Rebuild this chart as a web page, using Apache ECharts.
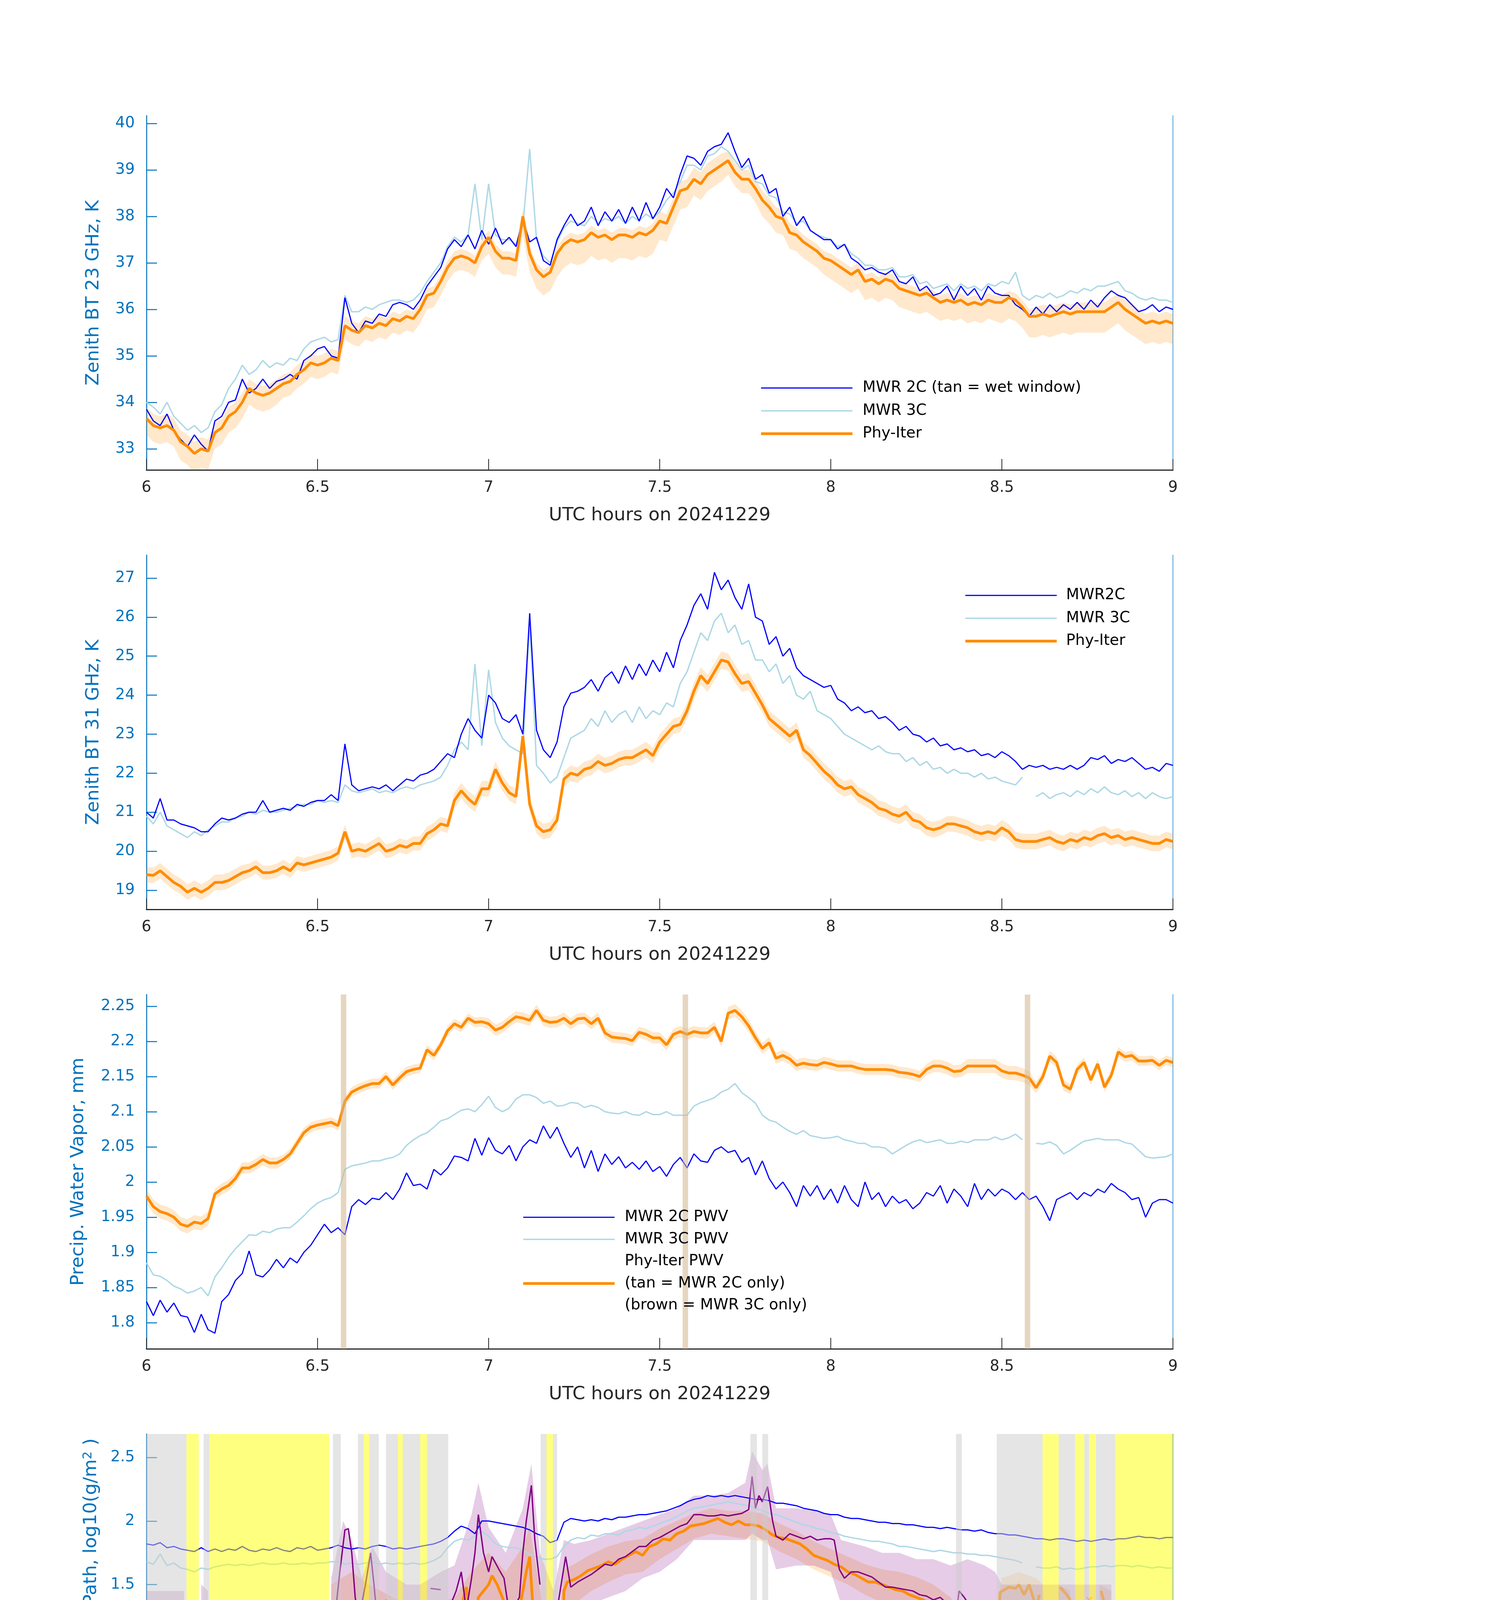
<!DOCTYPE html>
<html><head><meta charset="utf-8">
<script src="https://cdn.jsdelivr.net/npm/echarts@6/dist/echarts.min.js"></script>
<style>html,body{margin:0;padding:0;background:#fff}#c{width:3825px;height:6000px}</style>
</head><body><div id="c"></div>
<script>
// ---------------- DATA ----------------
// sample clock for the MWR / Phy-Iter time series (hours UTC, every 0.02 h)
const T = []; for (let i = 0; i <= 150; i++) T.push(Math.round((6 + i * 0.02) * 100) / 100);

const xTitle = 'UTC hours on 20241229';

// Panel 1: Zenith BT 23 GHz
const t23Ticks = [33,34,35,36,37,38,39,40];
const t23_2c = [
33.85,33.6,33.5,33.75,33.4,33.2,33.05,33.3,33.1,32.95,
33.6,33.7,34.0,34.05,34.5,34.2,34.3,34.5,34.3,34.45,
34.5,34.6,34.5,34.9,35.0,35.15,35.2,35.0,34.95,36.25,
35.7,35.5,35.75,35.7,35.9,35.85,36.1,36.15,36.1,36.0,
36.2,36.5,36.7,36.9,37.3,37.5,37.35,37.6,37.3,37.7,
37.4,37.75,37.4,37.55,37.35,37.95,37.45,37.55,37.05,36.95,
37.5,37.8,38.05,37.8,37.9,38.2,37.8,38.1,37.9,38.15,
37.85,38.2,37.9,38.3,37.95,38.2,38.6,38.4,38.9,39.3,
39.25,39.1,39.4,39.5,39.55,39.8,39.4,39.05,39.25,38.8,
38.9,38.5,38.6,38.0,38.2,37.8,38.0,37.7,37.6,37.5,
37.5,37.3,37.4,37.1,37.0,36.85,36.9,36.8,36.75,36.85,
36.6,36.55,36.7,36.4,36.5,36.3,36.35,36.5,36.2,36.5,
36.3,36.45,36.2,36.5,36.35,36.3,36.3,36.1,36.0,35.85,
36.05,35.9,36.1,35.95,36.1,36.0,36.15,36.0,36.2,36.05,
36.25,36.4,36.3,36.25,36.1,35.95,36.0,36.1,35.95,36.05,
36.0];
const t23_3c = [
34.0,33.9,33.75,34.0,33.7,33.55,33.4,33.5,33.35,33.45,
33.8,33.95,34.3,34.5,34.8,34.6,34.7,34.9,34.75,34.85,
34.8,34.95,34.9,35.15,35.3,35.35,35.4,35.3,35.35,36.3,
35.95,35.95,36.05,36.0,36.1,36.15,36.2,36.2,36.15,36.2,
36.35,36.6,36.8,37.0,37.35,37.55,37.45,37.6,38.7,37.5,
38.7,37.6,37.5,37.5,37.4,37.8,39.45,37.5,37.15,37.0,
37.45,37.75,37.9,37.85,37.8,38.0,37.85,37.95,37.9,38.0,
37.85,38.0,37.9,38.05,37.95,38.1,38.35,38.5,38.75,39.1,
39.1,39.0,39.3,39.35,39.5,39.4,39.2,39.0,39.1,38.75,
38.7,38.45,38.4,38.1,38.05,37.85,37.9,37.7,37.6,37.55,
37.5,37.35,37.4,37.2,37.1,36.95,36.95,36.85,36.85,36.9,
36.7,36.7,36.75,36.55,36.6,36.45,36.5,36.55,36.4,36.55,
36.45,36.5,36.4,36.55,36.5,36.6,36.55,36.8,36.3,36.2,
36.3,36.25,36.35,36.25,36.3,36.4,36.35,36.45,36.4,36.5,
36.5,36.55,36.6,36.4,36.35,36.25,36.2,36.25,36.2,36.2,
36.15];
const t23_phy = [
33.65,33.5,33.45,33.5,33.4,33.15,33.05,32.9,33.0,32.95,
33.35,33.45,33.7,33.8,34.0,34.3,34.2,34.15,34.2,34.3,
34.4,34.45,34.6,34.7,34.85,34.8,34.85,34.95,34.9,35.65,
35.55,35.5,35.65,35.6,35.7,35.65,35.8,35.75,35.85,35.8,
36.0,36.3,36.35,36.6,36.9,37.1,37.15,37.1,37.0,37.35,
37.55,37.25,37.1,37.1,37.05,38.0,37.2,36.85,36.7,36.8,
37.2,37.4,37.5,37.45,37.5,37.65,37.55,37.6,37.5,37.6,
37.6,37.55,37.65,37.6,37.7,37.9,37.85,38.2,38.55,38.6,
38.8,38.7,38.9,39.0,39.1,39.2,38.95,38.8,38.8,38.6,
38.35,38.2,38.0,37.95,37.65,37.6,37.45,37.35,37.25,37.1,
37.05,36.95,36.85,36.75,36.85,36.6,36.65,36.55,36.65,36.6,
36.45,36.4,36.35,36.3,36.35,36.25,36.15,36.2,36.15,36.2,
36.1,36.15,36.1,36.2,36.15,36.15,36.25,36.2,36.05,35.85,
35.85,35.9,35.85,35.9,35.95,35.9,35.95,35.95,35.95,35.95,
35.95,36.05,36.15,36.0,35.9,35.8,35.7,35.75,35.7,35.75,
35.7];
// Phy-Iter uncertainty, one value per 0.1 h block
const t23ErrUp = [0.25,0.25,0.2,0.2,0.2,0.2,0.2,0.15,0.15,0.15,0.15,0.15,0.15,0.15,0.15,0.2,0.25,0.2,0.2,0.15,0.15,0.15,0.15,0.15,0.15,0.15,0.2,0.2,0.2,0.2,0.2];
const t23ErrDn = [0.35,0.4,0.35,0.35,0.3,0.3,0.3,0.3,0.3,0.3,0.35,0.4,0.5,0.5,0.5,0.4,0.35,0.3,0.35,0.35,0.4,0.4,0.4,0.4,0.4,0.45,0.45,0.45,0.45,0.45,0.45];

// Panel 2: Zenith BT 31 GHz
const t31Ticks = [19,20,21,22,23,24,25,26,27];
const t31_2c = [
21.0,20.85,21.35,20.8,20.8,20.7,20.65,20.6,20.5,20.5,
20.7,20.85,20.8,20.85,20.95,21.0,21.0,21.3,21.0,21.05,
21.1,21.05,21.2,21.15,21.25,21.3,21.3,21.45,21.3,22.75,
21.7,21.55,21.6,21.65,21.6,21.7,21.55,21.7,21.85,21.8,
21.95,22.0,22.1,22.3,22.5,22.4,23.0,23.4,23.1,22.9,
24.0,23.8,23.4,23.3,23.5,23.0,26.1,23.1,22.6,22.4,
22.8,23.7,24.05,24.1,24.2,24.4,24.1,24.45,24.6,24.3,
24.75,24.4,24.8,24.5,24.9,24.6,25.1,24.7,25.4,25.8,
26.3,26.6,26.2,27.15,26.7,26.95,26.5,26.2,26.85,26.0,
25.9,25.3,25.5,25.0,25.2,24.7,24.5,24.4,24.3,24.2,
24.25,23.9,23.8,23.6,23.7,23.55,23.6,23.4,23.45,23.3,
23.1,23.2,23.0,22.95,22.8,22.9,22.7,22.75,22.6,22.65,
22.55,22.6,22.45,22.5,22.4,22.55,22.45,22.3,22.1,22.2,
22.15,22.2,22.1,22.15,22.1,22.2,22.1,22.2,22.4,22.35,
22.45,22.25,22.35,22.3,22.4,22.25,22.1,22.15,22.05,22.25,
22.2];
const t31_3c = [
20.9,20.7,21.0,20.65,20.55,20.45,20.35,20.5,20.4,20.55,
20.65,20.75,20.75,20.85,20.9,21.0,20.95,21.05,21.0,21.0,
21.05,21.1,21.15,21.2,21.2,21.3,21.25,21.3,21.25,21.7,
21.55,21.5,21.55,21.6,21.5,21.55,21.5,21.6,21.65,21.6,
21.7,21.75,21.8,21.9,22.2,22.6,22.8,22.6,24.8,22.7,
24.65,23.3,22.9,22.7,22.6,22.5,25.9,22.2,22.0,21.75,
21.9,22.4,22.9,23.0,23.1,23.4,23.2,23.6,23.3,23.5,
23.6,23.3,23.7,23.4,23.6,23.5,23.8,23.7,24.3,24.6,
25.1,25.6,25.4,25.9,26.1,25.6,25.8,25.3,25.4,24.9,
24.9,24.6,24.8,24.3,24.5,24.0,23.9,24.1,23.6,23.5,
23.4,23.2,23.0,22.9,22.8,22.7,22.6,22.7,22.55,22.5,
22.5,22.3,22.4,22.2,22.3,22.1,22.15,22.0,22.1,22.0,
22.0,21.9,22.0,21.85,21.9,21.8,21.75,21.7,21.9,null,
21.4,21.5,21.35,21.45,21.5,21.4,21.55,21.45,21.6,21.5,
21.65,21.5,21.45,21.55,21.4,21.5,21.35,21.5,21.4,21.35,
21.4];
const t31_phy = [
19.4,19.38,19.5,19.35,19.2,19.1,18.95,19.05,18.95,19.05,
19.2,19.2,19.25,19.35,19.45,19.5,19.6,19.45,19.45,19.5,
19.6,19.5,19.7,19.65,19.7,19.75,19.8,19.85,19.95,20.5,
20.0,20.05,20.0,20.1,20.2,20.0,20.05,20.15,20.1,20.2,
20.2,20.45,20.55,20.7,20.65,21.3,21.55,21.35,21.2,21.6,
21.6,22.1,21.75,21.5,21.4,22.95,21.2,20.65,20.5,20.55,
20.8,21.85,22.0,21.95,22.1,22.15,22.3,22.2,22.25,22.35,
22.4,22.4,22.5,22.6,22.45,22.8,23.0,23.2,23.25,23.6,
24.1,24.5,24.3,24.6,24.9,24.85,24.55,24.3,24.35,24.05,
23.75,23.4,23.25,23.1,22.95,23.1,22.6,22.45,22.25,22.05,
21.9,21.7,21.6,21.65,21.45,21.35,21.25,21.1,21.05,20.95,
20.9,21.0,20.8,20.75,20.6,20.55,20.6,20.7,20.7,20.65,
20.6,20.5,20.45,20.5,20.45,20.6,20.5,20.3,20.25,20.25,
20.25,20.3,20.35,20.25,20.2,20.3,20.25,20.35,20.3,20.4,
20.45,20.35,20.4,20.3,20.35,20.3,20.25,20.2,20.2,20.3,
20.25];
const t31ErrUp = [0.2,0.2,0.2,0.18,0.18,0.18,0.18,0.18,0.18,0.2,0.2,0.2,0.2,0.2,0.2,0.2,0.22,0.22,0.2,0.2,0.2,0.2,0.2,0.2,0.2,0.2,0.2,0.2,0.2,0.2,0.2];
const t31ErrDn = [0.2,0.2,0.2,0.18,0.18,0.18,0.18,0.18,0.18,0.2,0.2,0.2,0.2,0.2,0.2,0.2,0.22,0.22,0.2,0.2,0.2,0.2,0.2,0.2,0.2,0.2,0.2,0.2,0.2,0.2,0.2];

// Panel 3: Precipitable water vapour
const pwvTicks = [1.8,1.85,1.9,1.95,2,2.05,2.1,2.15,2.2,2.25];
const pwv_2c = [
1.83,1.81,1.832,1.815,1.828,1.81,1.808,1.786,1.812,1.79,
1.785,1.83,1.84,1.86,1.87,1.902,1.868,1.865,1.875,1.89,
1.878,1.892,1.885,1.9,1.91,1.925,1.94,1.928,1.935,1.925,
1.965,1.975,1.968,1.977,1.975,1.985,1.975,1.99,2.013,1.995,
1.997,1.99,2.018,2.01,2.02,2.037,2.035,2.03,2.062,2.038,
2.063,2.045,2.04,2.052,2.03,2.05,2.06,2.055,2.08,2.062,
2.078,2.055,2.035,2.05,2.02,2.045,2.015,2.04,2.025,2.036,
2.02,2.028,2.018,2.03,2.015,2.022,2.008,2.025,2.035,2.02,
2.04,2.03,2.028,2.045,2.05,2.042,2.045,2.028,2.035,2.01,
2.03,2.005,1.99,2.0,1.985,1.965,1.995,1.98,1.995,1.975,
1.99,1.97,1.995,1.975,1.965,2.0,1.975,1.985,1.965,1.98,
1.97,1.975,1.962,1.97,1.985,1.98,1.995,1.97,1.99,1.98,
1.965,1.998,1.975,1.99,1.98,1.99,1.985,1.975,1.985,1.975,
1.98,1.965,1.945,1.975,1.98,1.985,1.975,1.985,1.98,1.99,
1.985,1.998,1.99,1.985,1.975,1.978,1.95,1.97,1.975,1.975,
1.97];
const pwv_3c = [
1.885,1.868,1.866,1.86,1.852,1.848,1.842,1.845,1.85,1.838,
1.865,1.878,1.893,1.905,1.915,1.925,1.924,1.93,1.928,1.933,
1.935,1.935,1.943,1.952,1.962,1.97,1.975,1.978,1.985,2.018,
2.023,2.025,2.027,2.03,2.03,2.033,2.035,2.04,2.052,2.06,
2.066,2.07,2.078,2.087,2.09,2.096,2.102,2.104,2.1,2.11,
2.122,2.106,2.1,2.105,2.118,2.124,2.124,2.12,2.112,2.115,
2.108,2.109,2.113,2.112,2.106,2.109,2.106,2.1,2.098,2.097,
2.1,2.096,2.095,2.1,2.096,2.096,2.1,2.095,2.095,2.095,
2.108,2.113,2.116,2.12,2.128,2.132,2.14,2.127,2.12,2.112,
2.095,2.088,2.085,2.078,2.072,2.068,2.073,2.066,2.064,2.062,
2.063,2.065,2.06,2.058,2.055,2.055,2.05,2.05,2.048,2.04,
2.046,2.052,2.057,2.06,2.056,2.058,2.06,2.055,2.055,2.058,
2.056,2.06,2.06,2.06,2.064,2.06,2.063,2.068,2.06,null,
2.055,2.054,2.057,2.052,2.04,2.045,2.052,2.058,2.06,2.062,
2.06,2.06,2.06,2.056,2.054,2.045,2.036,2.034,2.035,2.036,
2.04];
const pwv_phy = [
1.98,1.965,1.958,1.955,1.95,1.94,1.937,1.943,1.941,1.948,
1.983,1.99,1.995,2.005,2.02,2.02,2.025,2.032,2.027,2.027,
2.032,2.04,2.055,2.07,2.078,2.081,2.083,2.085,2.08,2.115,
2.128,2.133,2.137,2.14,2.14,2.15,2.138,2.148,2.157,2.16,
2.162,2.188,2.18,2.195,2.215,2.225,2.22,2.233,2.227,2.228,
2.225,2.216,2.22,2.228,2.235,2.233,2.23,2.244,2.23,2.227,
2.228,2.233,2.225,2.232,2.233,2.225,2.233,2.212,2.206,2.205,
2.204,2.201,2.213,2.21,2.205,2.205,2.195,2.21,2.214,2.21,
2.214,2.212,2.212,2.22,2.2,2.24,2.244,2.235,2.222,2.205,
2.19,2.198,2.176,2.18,2.175,2.166,2.169,2.167,2.166,2.17,
2.168,2.165,2.165,2.165,2.162,2.16,2.16,2.16,2.16,2.159,
2.156,2.155,2.153,2.15,2.16,2.165,2.165,2.162,2.157,2.158,
2.165,2.165,2.165,2.165,2.165,2.158,2.155,2.155,2.152,2.148,
2.134,2.15,2.179,2.17,2.138,2.132,2.16,2.17,2.145,2.168,
2.135,2.152,2.185,2.178,2.18,2.172,2.172,2.173,2.166,2.173,
2.17];
const pwvErrUp = [0.01,0.01,0.008,0.008,0.007,0.007,0.007,0.007,0.007,0.007,0.008,0.008,0.008,0.008,0.008,0.008,0.008,0.009,0.008,0.008,0.008,0.008,0.008,0.009,0.01,0.01,0.008,0.007,0.007,0.007,0.007];
const pwvErrDn = [0.01,0.01,0.008,0.008,0.007,0.007,0.007,0.007,0.007,0.007,0.008,0.008,0.008,0.008,0.008,0.008,0.008,0.009,0.008,0.008,0.008,0.008,0.008,0.009,0.01,0.01,0.008,0.007,0.007,0.007,0.007];
// tan = MWR 2C only intervals (hours)
const pwvTan = [[6.568,6.584],[7.567,7.583],[8.567,8.583]];

// Panel 4: log10 LWP
const lwpTicks = [0,0.5,1,1.5,2,2.5];
const lwp_2c = [
1.82,1.81,1.83,1.79,1.8,1.78,1.77,1.76,1.79,1.76,
1.78,1.76,1.78,1.77,1.8,1.77,1.76,1.78,1.77,1.79,
1.77,1.76,1.79,1.78,1.8,1.77,1.78,1.79,1.81,1.79,
1.78,1.79,1.78,1.8,1.81,1.8,1.78,1.79,1.78,1.79,
1.8,1.81,1.82,1.84,1.87,1.92,1.96,1.94,1.9,2.0,
2.0,1.99,1.98,1.97,1.96,1.95,1.93,1.9,1.88,1.83,
1.85,1.99,2.02,2.01,2.0,2.01,2.0,2.02,2.01,2.03,
2.03,2.04,2.05,2.05,2.06,2.07,2.08,2.1,2.12,2.15,
2.17,2.18,2.2,2.19,2.2,2.19,2.2,2.19,2.18,2.17,
2.17,2.16,2.14,2.14,2.13,2.12,2.1,2.09,2.08,2.06,
2.05,2.05,2.03,2.02,2.02,2.01,2.0,1.99,1.99,1.98,
1.98,1.97,1.97,1.96,1.95,1.95,1.94,1.95,1.94,1.93,
1.93,1.92,1.93,1.91,1.9,1.9,1.89,1.89,1.88,1.87,
1.86,1.86,1.85,1.86,1.86,1.85,1.84,1.85,1.84,1.85,
1.86,1.85,1.86,1.86,1.87,1.88,1.87,1.87,1.86,1.87,
1.87];
const lwp_3c = [
1.68,1.66,1.74,1.65,1.67,1.63,1.62,1.6,1.63,1.62,
1.64,1.65,1.66,1.65,1.66,1.65,1.66,1.67,1.66,1.66,
1.67,1.66,1.66,1.67,1.66,1.67,1.67,1.68,1.68,1.66,
1.67,1.66,1.67,1.68,1.66,1.67,1.66,1.67,1.66,1.67,
1.66,1.67,1.69,1.72,1.79,1.84,1.86,1.85,1.88,1.92,
1.88,1.82,1.8,1.79,1.79,1.77,1.74,1.72,1.7,1.7,
1.72,1.8,1.85,1.87,1.86,1.89,1.88,1.9,1.9,1.89,
1.92,1.93,1.95,1.94,1.96,1.98,2.0,2.02,2.05,2.08,
2.1,2.11,2.12,2.13,2.14,2.15,2.14,2.13,2.12,2.1,
2.08,2.06,2.05,2.03,2.01,1.99,1.97,1.96,1.94,1.93,
1.91,1.9,1.88,1.87,1.86,1.85,1.84,1.84,1.83,1.82,
1.8,1.8,1.79,1.78,1.77,1.76,1.77,1.76,1.75,1.75,
1.74,1.74,1.73,1.73,1.72,1.71,1.7,1.69,1.67,null,
1.64,1.63,1.63,1.64,1.62,1.63,1.62,1.63,1.64,1.64,
1.65,1.64,1.65,1.65,1.64,1.65,1.64,1.63,1.64,1.63,
1.63];
// Phy-Iter LWP [hour, log10 LWP]; -1 = below axis (LWP ~ 0), null = gap
const lwpPhy = [
[6.0,0.8],[6.01,0.75],[6.025,0.9],[6.04,1.06],[6.055,0.92],[6.07,0.66],[6.085,0.6],[6.095,-1],[6.1,null],
[6.158,0.26],[6.175,0.16],[6.18,null],
[6.555,-1],[6.562,1.12],[6.57,1.15],[6.578,1.17],[6.585,-1],[6.59,null],
[6.83,-1],[6.835,0.75],[6.845,0.85],[6.855,0.7],[6.865,-1],[6.87,null],
[6.885,-1],[6.9,0.9],[6.91,1.2],[6.925,1.38],[6.935,1.48],[6.945,1.25],[6.96,1.2],[6.97,1.4],[6.985,1.45],
[7.0,1.5],[7.01,1.57],[7.025,1.5],[7.04,1.4],[7.055,1.3],[7.065,1.25],[7.08,1.22],[7.09,1.3],[7.1,1.45],
[7.11,1.6],[7.12,1.72],[7.13,1.3],[7.145,0.95],[7.155,0.3],[7.16,-1],[7.18,null],
[7.205,-1],[7.22,1.45],[7.23,1.52],[7.25,1.54],[7.27,1.57],[7.29,1.61],[7.31,1.63],[7.33,1.65],[7.35,1.68],
[7.37,1.66],[7.39,1.7],[7.41,1.73],[7.43,1.76],[7.45,1.73],[7.47,1.8],[7.49,1.82],[7.51,1.86],[7.53,1.85],
[7.55,1.9],[7.57,1.92],[7.59,1.96],[7.61,1.97],[7.63,1.98],[7.65,2.0],[7.67,2.02],[7.69,1.99],[7.71,1.97],
[7.73,2.0],[7.75,1.97],[7.77,1.97],[7.79,1.96],[7.81,1.93],[7.83,1.89],[7.85,1.87],[7.87,1.86],[7.89,1.84],
[7.91,1.82],[7.93,1.78],[7.95,1.73],[7.97,1.71],[7.99,1.69],[8.01,1.66],[8.03,1.64],[8.05,1.6],[8.07,1.58],
[8.09,1.55],[8.11,1.52],[8.13,1.52],[8.15,1.5],[8.17,1.48],[8.19,1.46],[8.21,1.45],[8.23,1.42],[8.25,1.4],
[8.27,1.38],[8.29,1.35],[8.31,1.32],[8.33,1.28],[8.35,1.22],[8.37,1.14],[8.39,1.2],[8.41,1.17],[8.43,1.12],
[8.45,1.07],[8.47,1.02],[8.485,1.0],[8.495,1.44],[8.52,1.48],[8.54,1.47],[8.55,1.5],[8.565,1.42],[8.58,1.5],
[8.6,1.32],[8.61,1.42],[8.615,null],
[8.67,1.48],[8.69,1.42],[8.7,1.38],[8.705,null],
[8.79,1.45],[8.8,1.35],[8.81,1.25],[8.82,1.25]];
// Adiabatic LWP [hour, log10 LWP]
const lwpAdi = [
[6.0,1.08],[6.05,1.085],[6.1,1.09],[6.11,1.09],[6.115,null],
[6.16,1.28],[6.175,1.1],[6.18,null],
[6.54,1.25],[6.55,1.22],[6.565,1.6],[6.58,1.93],[6.59,1.94],[6.6,1.75],[6.61,1.4],[6.62,1.22],
[6.64,1.5],[6.655,1.75],[6.665,1.5],[6.675,1.2],[6.69,1.2],[6.7,1.38],[6.71,1.3],[6.72,1.2],[6.725,null],
[6.76,1.1],[6.79,1.1],[6.795,null],
[6.83,1.47],[6.86,1.46],[6.865,null],
[6.88,1.1],[6.89,1.35],[6.905,1.45],[6.92,1.6],[6.935,1.3],[6.95,1.55],[6.96,1.75],[6.97,2.05],[6.985,1.75],
[7.0,1.6],[7.01,1.72],[7.03,1.62],[7.045,1.55],[7.06,1.28],[7.075,1.33],[7.09,1.4],[7.1,1.75],[7.11,2.0],
[7.125,2.28],[7.135,1.85],[7.15,1.5],[7.16,null],
[7.19,1.1],[7.2,1.3],[7.225,1.72],[7.24,1.48],[7.26,1.52],[7.28,1.55],[7.3,1.58],[7.32,1.62],[7.34,1.66],
[7.36,1.65],[7.38,1.7],[7.4,1.72],[7.42,1.76],[7.44,1.8],[7.46,1.8],[7.48,1.85],[7.5,1.87],[7.52,1.9],
[7.54,1.93],[7.56,1.96],[7.58,1.98],[7.6,2.05],[7.62,2.05],[7.64,2.04],[7.66,2.04],[7.68,2.05],[7.7,2.04],
[7.72,2.05],[7.74,2.06],[7.76,2.09],[7.77,2.35],[7.78,2.1],[7.79,2.2],[7.8,2.15],[7.815,2.27],[7.83,2.0],
[7.84,1.88],[7.86,1.85],[7.88,1.9],[7.9,1.88],[7.92,1.86],[7.94,1.88],[7.96,1.85],[7.98,1.86],[8.0,1.86],
[8.01,1.85],[8.025,1.62],[8.04,1.55],[8.06,1.6],[8.08,1.6],[8.1,1.58],[8.12,1.56],[8.14,1.52],[8.16,1.48],
[8.18,1.48],[8.2,1.47],[8.22,1.46],[8.24,1.45],[8.26,1.42],[8.28,1.41],[8.3,1.38],[8.32,1.4],[8.34,1.35],
[8.35,1.2],[8.36,1.12],[8.375,1.45],[8.39,1.4],[8.41,1.32],[8.42,1.35],[8.44,1.3],[8.46,1.35],[8.475,1.3],
[8.485,1.12],[8.5,1.13],[8.55,1.13],[8.6,1.13],[8.62,1.13],[8.625,null],
[8.68,1.13],[8.7,1.13],[8.705,null],
[8.79,1.14],[8.82,1.14]];
// isolated retrievals shown as crosses
const lwpPhyCross = [[8.755,1.38]];
const lwpAdiCross = [[8.755,1.13]];
// uncertainty bands [hour, low, high]
const lwpPhyBand = [
[6.0,-1,1.3],[6.03,-1,1.38],[6.05,-1,1.3],[6.08,-1,1.0],[6.11,-1,0.9],[6.115,null,null],
[6.155,-1,0.5],[6.18,-1,0.45],[6.185,null,null],
[6.54,-1,1.5],[6.6,-1,1.6],[6.65,-1,1.5],[6.72,-1,1.4],[6.8,-1,1.3],[6.9,-1,1.4],[6.95,-1,1.6],[7.0,-1,1.75],
[7.05,-1,1.6],[7.1,-1,1.8],[7.12,-1,1.95],[7.16,-1,1.3],[7.2,-1,1.0],
[7.22,1.2,1.62],[7.25,1.35,1.66],[7.3,1.45,1.74],[7.35,1.52,1.8],[7.4,1.58,1.84],[7.45,1.6,1.86],[7.5,1.7,1.94],
[7.55,1.78,2.0],[7.6,1.86,2.06],[7.65,1.9,2.1],[7.7,1.88,2.08],[7.75,1.86,2.08],[7.8,1.84,2.06],[7.85,1.76,1.98],
[7.9,1.7,1.92],[7.95,1.62,1.84],[8.0,1.56,1.78],[8.05,1.5,1.72],[8.1,1.42,1.66],[8.15,1.36,1.62],[8.2,1.32,1.6],
[8.25,1.26,1.56],[8.3,1.1,1.5],[8.33,0.7,1.44],[8.35,0.2,1.4],[8.36,-1,1.36],[8.38,0.4,1.32],[8.4,-1,1.3],
[8.42,0.3,1.28],[8.44,-1,1.25],[8.46,0.2,1.22],[8.48,-1,1.2],[8.5,-1,1.55],[8.55,-1,1.6],[8.6,-1,1.55],
[8.62,-1,1.5],[8.625,null,null],
[8.665,-1,1.5],[8.7,-1,1.45],[8.705,null,null],
[8.785,-1,1.5],[8.82,-1,1.45]];
const lwpAdiBand = [
[6.0,0.5,1.45],[6.11,0.5,1.45],[6.115,null,null],
[6.16,0.6,1.5],[6.18,0.6,1.45],[6.185,null,null],
[6.54,0.62,1.55],[6.575,0.62,2.0],[6.6,0.62,1.85],[6.63,0.6,1.55],[6.66,0.6,1.8],[6.7,0.62,1.6],[6.76,0.55,1.5],
[6.8,0.55,1.5],[6.86,0.6,1.6],[6.9,0.8,1.65],[6.95,0.95,2.05],[6.97,0.95,2.3],[7.0,0.85,1.95],[7.05,0.85,1.75],
[7.1,0.85,2.1],[7.125,0.9,2.45],[7.15,0.9,1.75],[7.19,0.9,1.45],[7.22,1.15,1.85],[7.25,1.3,1.82],[7.3,1.35,1.85],
[7.35,1.4,1.9],[7.4,1.45,1.95],[7.45,1.55,2.0],[7.5,1.6,2.05],[7.55,1.7,2.1],[7.6,1.85,2.2],[7.65,1.85,2.2],
[7.7,1.85,2.22],[7.75,1.85,2.3],[7.77,1.9,2.55],[7.8,1.85,2.4],[7.815,1.85,2.45],[7.84,1.62,2.1],[7.9,1.65,2.1],
[7.95,1.65,2.08],[8.0,1.6,2.05],[8.03,1.35,1.85],[8.1,1.3,1.8],[8.15,1.25,1.75],[8.2,1.2,1.75],[8.25,1.15,1.7],
[8.3,1.1,1.7],[8.35,1.0,1.65],[8.4,1.0,1.7],[8.45,0.95,1.65],[8.48,0.95,1.6],[8.5,0.55,1.5],[8.82,0.55,1.5]];
// flagged intervals (hours)
const lwpGray = [[6.0,6.117],[6.167,6.184],[6.545,6.568],[6.618,6.635],[6.651,6.679],[6.70,6.735],[6.749,6.80],
  [6.82,6.882],[7.152,7.169],[7.188,7.2],[7.765,7.784],[7.8,7.817],[8.366,8.383],[8.485,8.619],[8.666,8.714],
  [8.741,8.755],[8.775,8.831]];
const lwpYellow = [[6.117,6.153],[6.184,6.534],[6.635,6.651],[6.735,6.749],[6.80,6.82],[7.169,7.188],
  [8.619,8.666],[8.714,8.741],[8.755,8.775],[8.831,9.0]];

// Panel 5: DQ flag, one value per 50-s retrieval starting at 6.0 h (null = none)
const dqTicks = [0,2,4,6,8,10];
const dqFlag = [
4,4,4,4,4,4,4,4,null,5,5,0,null,4,5,5,5,5,
5,5,5,5,5,5,5,5,5,5,5,5,5,5,5,5,5,5,
5,5,5,0,4,0,0,0,null,4,5,3,null,4,0,4,4,null,
5,4,4,4,5,null,4,4,4,4,0,0,0,0,0,0,0,0,
0,0,0,0,0,0,0,0,0,0,0,4,null,5,4,0,0,0,
0,0,0,0,0,0,0,0,0,0,0,0,0,0,0,0,0,0,
0,0,0,0,0,0,0,0,0,0,0,0,null,6,0,0,0,0,
null,null,4,0,4,null,0,0,0,0,0,0,0,0,0,0,0,0,
0,0,0,0,0,0,0,0,0,0,0,0,0,0,0,0,0,0,
0,0,0,0,0,0,0,0,0,4,0,0,0,0,0,0,0,4,
4,4,4,4,4,4,4,4,4,5,5,5,null,4,4,4,5,5,
null,4,5,4,4,4,null,5,5,5,5,5,5,5,5,5,5,5,5];
const dqStepHours = 50 / 3600;

// ---------------- CHART ----------------
const FONT = 'DejaVu Sans';
const AXBLUE = '#0072BD';
const DARK = '#262626';
const C2 = '#0000FF', C3 = '#ADD8E6', CPHY = '#FF8C00', CADI = '#800080';

const panels = [
  {top:296,  min:32.546, max:40.168, ticks:t23Ticks, name:'Zenith BT 23 GHz, K', gap:112},
  {top:1421, min:18.51,  max:27.59,  ticks:t31Ticks, name:'Zenith BT 31 GHz, K', gap:112},
  {top:2546, min:1.7628, max:2.2666, ticks:pwvTicks, name:'Precip. Water Vapor, mm', gap:151},
  {top:3671, min:-0.101, max:2.684,  ticks:lwpTicks, name:'log10 Liquid Water Path, log10(g/m{sup|2} )', gap:118},
  {top:4796, min:-0.509, max:11.52,  ticks:dqTicks,  name:'MWR Phy Iter DQ Flag', gap:112}
];

const grids = [], xAxes = [], yAxes = [];
panels.forEach((p, k) => {
  grids.push({left:375, right:822, top:p.top, height:907, containLabel:false, outerBoundsMode:'none'});
  xAxes.push({gridIndex:k, type:'value', min:6, max:9, interval:0.5, position:'bottom',
    axisLine:{show:true, onZero:false, lineStyle:{color:DARK, width:3}},
    axisTick:{show:true, inside:true, length:28, lineStyle:{color:DARK, width:2}},
    axisLabel:{show:true, margin:26, fontSize:39, fontFamily:FONT, color:DARK},
    splitLine:{show:false},
    name:xTitle, nameLocation:'middle', nameGap:93,
    nameTextStyle:{fontSize:47, fontFamily:FONT, color:DARK}});
  yAxes.push({gridIndex:k, type:'value', min:p.min, max:p.max, position:'left',
    axisLine:{show:true, onZero:false, lineStyle:{color:AXBLUE, width:2.5}},
    axisTick:{show:true, inside:true, length:27, customValues:p.ticks, lineStyle:{color:AXBLUE, width:2.5}},
    axisLabel:{show:true, customValues:p.ticks, margin:30, fontSize:39, fontFamily:FONT, color:AXBLUE},
    splitLine:{show:false},
    name:p.name, nameLocation:'middle', nameGap:p.gap, nameRotate:90,
    nameTextStyle:{fontSize:47, fontFamily:FONT, color:AXBLUE,
      rich:{sup:{fontSize:32, fontFamily:FONT, color:AXBLUE, verticalAlign:'top', lineHeight:47}}}});
});
panels.forEach((p, k) => {
  yAxes.push({gridIndex:k, type:'value', min:p.min, max:p.max, position:'right',
    axisLine:{show:true, onZero:false, lineStyle:{color:'#4DA3DC', width:2}},
    axisTick:{show:false}, axisLabel:{show:false}, splitLine:{show:false}});
});

function onGrid(vals) { return T.map((t, i) => [t, vals[i]]); }
function lineS(gi, name, data, color, width, z) {
  return {type:'line', name:name, xAxisIndex:gi, yAxisIndex:gi, data:data, symbol:'none', showSymbol:false,
    connectNulls:false, clip:true, silent:true, animation:false,
    lineStyle:{color:color, width:width}, itemStyle:{color:color}, z:z || 2};
}
function bandS(gi, ts, lo, hi, color) {
  const segs = []; let cur = [];
  for (let i = 0; i < ts.length; i++) {
    if (lo[i] == null || hi[i] == null) { if (cur.length > 1) segs.push(cur); cur = []; }
    else cur.push(i);
  }
  if (cur.length > 1) segs.push(cur);
  return {type:'custom', xAxisIndex:gi, yAxisIndex:gi, clip:true, silent:true, animation:false, z:1,
    data: segs.map((s, k) => [ts[s[0]], hi[s[0]], k]),
    renderItem: function (params, api) {
      const s = segs[api.value(2)];
      const up = s.map(i => api.coord([ts[i], hi[i]]));
      const dn = s.map(i => api.coord([ts[i], lo[i]])).reverse();
      return {type:'polygon', shape:{points:up.concat(dn)}, style:{fill:color}};
    }};
}
function errBand(gi, vals, up, dn, color) {
  const blk = t => Math.min(30, Math.floor((t - 6) * 10 + 1e-6));
  const lo = T.map((t, i) => vals[i] == null ? null : vals[i] - dn[blk(t)]);
  const hi = T.map((t, i) => vals[i] == null ? null : vals[i] + up[blk(t)]);
  return bandS(gi, T, lo, hi, color);
}
function tripleBand(gi, trip, color) {
  return bandS(gi, trip.map(r => r[0]), trip.map(r => r[1]), trip.map(r => r[2]), color);
}
function shadeS(gi, intervals, color, ymin, ymax) {
  return {type:'custom', xAxisIndex:gi, yAxisIndex:gi, clip:true, silent:true, animation:false, z:3,
    data: intervals.map(iv => [iv[0], iv[1]]),
    renderItem: function (params, api) {
      const a = api.coord([api.value(0), ymin]);
      const b = api.coord([api.value(1), ymax]);
      return {type:'rect', shape:{x:a[0], y:b[1], width:b[0] - a[0], height:a[1] - b[1]}, style:{fill:color}};
    }};
}
const BANDC = 'rgba(255,140,0,0.2)';
const series = [];
// Panel 1
series.push(errBand(0, t23_phy, t23ErrUp, t23ErrDn, BANDC));
series.push(lineS(0, 'MWR 3C', onGrid(t23_3c), C3, 3.5));
series.push(lineS(0, 'MWR 2C (tan = wet window)', onGrid(t23_2c), C2, 3));
series.push(lineS(0, 'Phy-Iter', onGrid(t23_phy), CPHY, 7));
// Panel 2
series.push(errBand(1, t31_phy, t31ErrUp, t31ErrDn, BANDC));
series.push(lineS(1, 'MWR 3C', onGrid(t31_3c), C3, 3.5));
series.push(lineS(1, 'MWR2C', onGrid(t31_2c), C2, 3));
series.push(lineS(1, 'Phy-Iter', onGrid(t31_phy), CPHY, 7));
// Panel 3
const PWV3 = 'Phy-Iter PWV\n(tan = MWR 2C only)\n(brown = MWR 3C only)';
series.push(errBand(2, pwv_phy, pwvErrUp, pwvErrDn, BANDC));
series.push(lineS(2, 'MWR 2C PWV', onGrid(pwv_2c), C2, 3));
series.push(lineS(2, 'MWR 3C PWV', onGrid(pwv_3c), C3, 3.5));
series.push(lineS(2, PWV3, onGrid(pwv_phy), CPHY, 7));
series.push(shadeS(2, pwvTan, 'rgba(210,180,140,0.55)', panels[2].min, panels[2].max));
// Panel 4
series.push(tripleBand(3, lwpPhyBand, BANDC));
series.push(tripleBand(3, lwpAdiBand, 'rgba(128,0,128,0.2)'));
series.push(lineS(3, 'MWR 2C LWP', onGrid(lwp_2c), C2, 3));
series.push(lineS(3, 'MWR 3C LWP', onGrid(lwp_3c), C3, 3.5));
series.push(lineS(3, 'Phy-Iter LWP', lwpPhy, CPHY, 7));
series.push(lineS(3, 'Adiabatic LWP', lwpAdi, CADI, 3.5));
const XPATH = 'path://M0,3L3,0L10,7L17,0L20,3L13,10L20,17L17,20L10,13L3,20L0,17L7,10Z';
series.push({type:'scatter', xAxisIndex:3, yAxisIndex:3, data:lwpPhyCross, symbol:XPATH, symbolSize:16,
  itemStyle:{color:CPHY}, silent:true, animation:false, z:2});
series.push({type:'scatter', xAxisIndex:3, yAxisIndex:3, data:lwpAdiCross, symbol:XPATH, symbolSize:16,
  itemStyle:{color:CADI}, silent:true, animation:false, z:2});
series.push(shadeS(3, lwpGray, 'rgba(204,204,204,0.5)', panels[3].min, panels[3].max));
series.push(shadeS(3, lwpYellow, 'rgba(255,255,0,0.5)', panels[3].min, panels[3].max));
// Panel 5
const dqPts = [];
dqFlag.forEach((f, i) => { if (f != null) dqPts.push([6 + i * dqStepHours, f]); });
series.push({type:'scatter', xAxisIndex:4, yAxisIndex:4, data:dqPts, symbol:'circle', symbolSize:8,
  itemStyle:{color:CPHY}, silent:true, animation:false});

function legendAt(left, top, names, padLeft, lh) {
  return {show:true, orient:'vertical', left:left, top:top, itemWidth:234, itemHeight:2, itemGap:0,
    selectedMode:false, data:names,
    itemStyle:{opacity:0},
    lineStyle:{width:'inherit'},
    textStyle:{fontSize:39, fontFamily:FONT, color:'#000', lineHeight:lh, padding:[0,0,0,padLeft]}};
}
const option = {
  animation:false,
  backgroundColor:'#ffffff',
  textStyle:{fontFamily:FONT},
  grid:grids, xAxis:xAxes, yAxis:yAxes, series:series,
  legend:[
    legendAt(1940, 959, ['MWR 2C (tan = wet window)', 'MWR 3C', 'Phy-Iter'], 21, 58.5),
    legendAt(2463, 1490, ['MWR2C', 'MWR 3C', 'Phy-Iter'], 19, 58.5),
    legendAt(1331, 3083, ['MWR 2C PWV', 'MWR 3C PWV', PWV3], 21, 56.5),
    legendAt(1423, 4310, ['MWR 2C LWP', 'MWR 3C LWP', 'Phy-Iter LWP', 'Adiabatic LWP'], 21, 57.7)
  ]
};
const chart = echarts.init(document.getElementById('c'), null, {renderer:'canvas', width:3825, height:6000});
chart.setOption(option);
</script></body></html>
